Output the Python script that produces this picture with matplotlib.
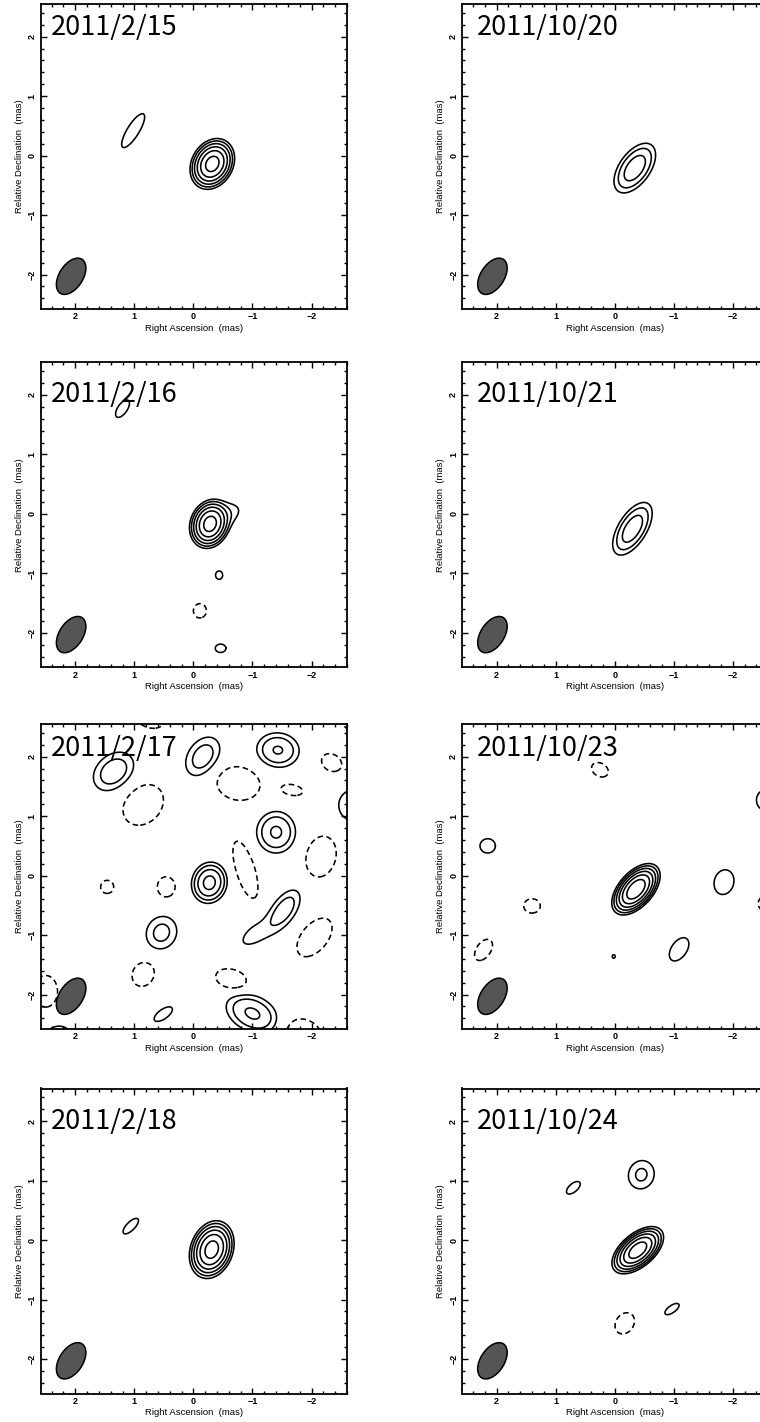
import numpy as np
import matplotlib.pyplot as plt
from matplotlib.patches import Ellipse
from matplotlib.ticker import MultipleLocator

plt.rcParams['font.family'] = ['Liberation Sans', 'DejaVu Sans']
plt.rcParams['font.weight'] = 'bold'

W, H = 760, 1422

dates = ["2011/2/15", "2011/10/20", "2011/2/16", "2011/10/21",
         "2011/2/17", "2011/10/23", "2011/2/18", "2011/10/24"]

# components:
# (RA, Dec, peak, semi-major, semi-minor of the lowest contour, PA in deg)
comps_0215 = [(-0.32, -0.14, 45, 0.45, 0.35, -30),
              (1.02, 0.42, 1.8, 0.33, 0.10, -32)]
comps_1020 = [(-0.34, -0.21, 6.5, 0.48, 0.26, -36)]
comps_0216 = [(-0.28, -0.17, 45, 0.42, 0.33, -20),
              (-0.50, -0.03, 1.8, 0.28, 0.15, -65),
              (-0.435, -1.03, 1.8, 0.07, 0.06, 0),
              (-0.11, -1.63, -2.5, 0.12, 0.11, 0),
              (-0.46, -2.26, 1.8, 0.07, 0.09, 0),
              (1.20, 1.77, 1.8, 0.17, 0.08, -35)]
comps_1021 = [(-0.30, -0.25, 6.5, 0.50, 0.24, -32)]
comps_0217 = [(-0.27, -0.12, 10.3, 0.35, 0.30, -15),
              (1.35, 1.75, 3.3, 0.38, 0.28, -50),
              (-0.16, 2.00, 3.0, 0.36, 0.25, -35),
              (-1.43, 2.11, 4.3, 0.36, 0.29, 85),
              (-0.76, 1.55, -2.5, 0.37, 0.28, 80),
              (-1.67, 1.44, -2.5, 0.18, 0.09, 80),
              (-2.34, 1.90, -2.5, 0.18, 0.14, 60),
              (-2.68, 1.18, 1.8, 0.25, 0.22, 0),
              (-2.72, 2.68, -2.5, 0.25, 0.22, 0),
              (0.75, 2.72, -2.5, 0.30, 0.22, 60),
              (0.85, 1.19, -2.5, 0.38, 0.30, -45),
              (-1.40, 0.73, 4.5, 0.35, 0.33, 0),
              (-2.16, 0.32, -2.5, 0.35, 0.25, -15),
              (-0.88, 0.10, -2.5, 0.50, 0.16, 17),
              (-1.55, -0.55, 2.8, 0.35, 0.18, -35),
              (-1.10, -0.95, 1.4, 0.30, 0.13, -55),
              (-2.05, -1.04, -2.5, 0.38, 0.22, -40),
              (0.54, -0.96, 2.6, 0.28, 0.25, -30),
              (1.46, -0.19, -2.5, 0.11, 0.11, 0),
              (0.46, -0.19, -2.5, 0.17, 0.15, 0),
              (0.85, -1.66, -2.5, 0.21, 0.18, -30),
              (-0.64, -1.74, -2.5, 0.27, 0.17, 75),
              (2.50, -1.95, -2.5, 0.27, 0.20, 0),
              (0.51, -2.33, 1.8, 0.18, 0.08, -55),
              (-1.00, -2.32, 4.5, 0.47, 0.30, 65),
              (-1.85, -2.72, -2.5, 0.35, 0.30, 60),
              (2.28, -2.78, 1.8, 0.25, 0.25, 0)]
comps_1023 = [(-0.36, -0.23, 57, 0.52, 0.29, -42),
              (2.15, 0.50, 1.8, 0.12, 0.13, 0),
              (0.25, 1.78, -2.5, 0.15, 0.11, 60),
              (-2.55, 1.27, 1.8, 0.17, 0.15, 0),
              (1.40, -0.51, -2.5, 0.12, 0.14, 0),
              (-1.85, -0.11, 1.8, 0.21, 0.165, -15),
              (-2.56, -0.47, -2.5, 0.13, 0.13, 0),
              (0.017, -1.36, 1.5, 0.03, 0.025, 0),
              (-1.09, -1.24, 1.8, 0.22, 0.13, -35),
              (2.22, -1.25, -2.5, 0.20, 0.12, -35)]
comps_0218 = [(-0.31, -0.16, 45, 0.50, 0.36, -20),
              (1.06, 0.235, 1.8, 0.17, 0.07, -45)]
comps_1024 = [(-0.39, -0.17, 51, 0.52, 0.28, -50),
              (0.70, 0.88, 1.8, 0.14, 0.07, -50),
              (-0.45, 1.10, 2.36, 0.24, 0.215, -20),
              (-0.97, -1.16, 1.8, 0.14, 0.06, -55),
              (-0.17, -1.40, -2.5, 0.19, 0.15, -35)]

maps = [comps_0215, comps_1020, comps_0216, comps_1021,
        comps_0217, comps_1023, comps_0218, comps_1024]

levels = [1, 2, 4, 8, 16, 32, 64]
beam = (2.07, -2.03, 0.68, 0.40, -33)  # RA, Dec, major, minor, PA

grid = np.linspace(-3.0, 3.0, 601)
X, Y = np.meshgrid(grid, grid)


def model(comps):
    z = np.zeros_like(X)
    for x0, y0, peak, a, b, pa in comps:
        k = np.sqrt(2 * np.log(abs(peak)))
        t = np.radians(pa)
        dx, dy = X - x0, Y - y0
        u = dx * np.sin(t) + dy * np.cos(t)
        v = dx * np.cos(t) - dy * np.sin(t)
        z += peak * np.exp(-0.5 * ((u * k / a) ** 2 + (v * k / b) ** 2))
    return z


# layout in pixels
col_left = [41, 462.3]
row_top = [4, 362.3, 724, 1088.5]
ax_w, ax_h = 306, 305
date_dx = [9.7, 15]
date_dy = [31, 40, 32, 41]

fig = plt.figure(figsize=(W / 100, H / 100), dpi=100)

for i, (date, comps) in enumerate(zip(dates, maps)):
    r, c = divmod(i, 2)
    ax = fig.add_axes([col_left[c] / W, 1 - (row_top[r] + ax_h) / H, ax_w / W, ax_h / H])
    Z = model(comps)
    ax.contour(X, Y, Z, levels=[l for l in levels if l < Z.max()],
               colors='k', linewidths=1.15)
    if Z.min() < -1:
        ax.contour(X, Y, Z, levels=[-1], colors='k', linewidths=1.15,
                   linestyles=[(0, (3.5, 2.2))])

    bx, by, bmaj, bmin, bpa = beam
    ax.add_patch(Ellipse((bx, by), bmaj, bmin, angle=90 - bpa,
                         facecolor='#555555', edgecolor='k', lw=1.1, zorder=3))

    ax.set_xlim(2.58, -2.6)
    ax.set_ylim(-2.58, 2.55)
    ax.set_xticks([2, 1, 0, -1, -2])
    ax.set_yticks([-2, -1, 0, 1, 2])
    ax.xaxis.set_minor_locator(MultipleLocator(0.2))
    ax.yaxis.set_minor_locator(MultipleLocator(0.2))
    ax.tick_params(which='both', direction='in', top=True, right=True, width=1.0)
    ax.tick_params(which='major', length=4.5)
    ax.tick_params(which='minor', length=2.3)
    ax.tick_params(axis='x', labelsize=6.5, pad=2.5)
    ax.tick_params(axis='y', labelsize=6.5, pad=3, labelrotation=90)
    for lbl in ax.get_yticklabels():
        lbl.set_va('center')
    for s in ax.spines.values():
        s.set_linewidth(1.3)
    ax.set_xlabel("Right Ascension  (mas)", fontsize=6.8, labelpad=1.5)
    ax.set_ylabel("Relative Declination  (mas)", fontsize=6.8, labelpad=3)

    ax.text(date_dx[c] / ax_w, 1 - date_dy[r] / ax_h, date, transform=ax.transAxes,
            fontsize=19.5, family=['Noto Sans CJK JP', 'DejaVu Sans'], weight='normal',
            ha='left', va='baseline', zorder=5)

fig.savefig('out.png', dpi=100)
